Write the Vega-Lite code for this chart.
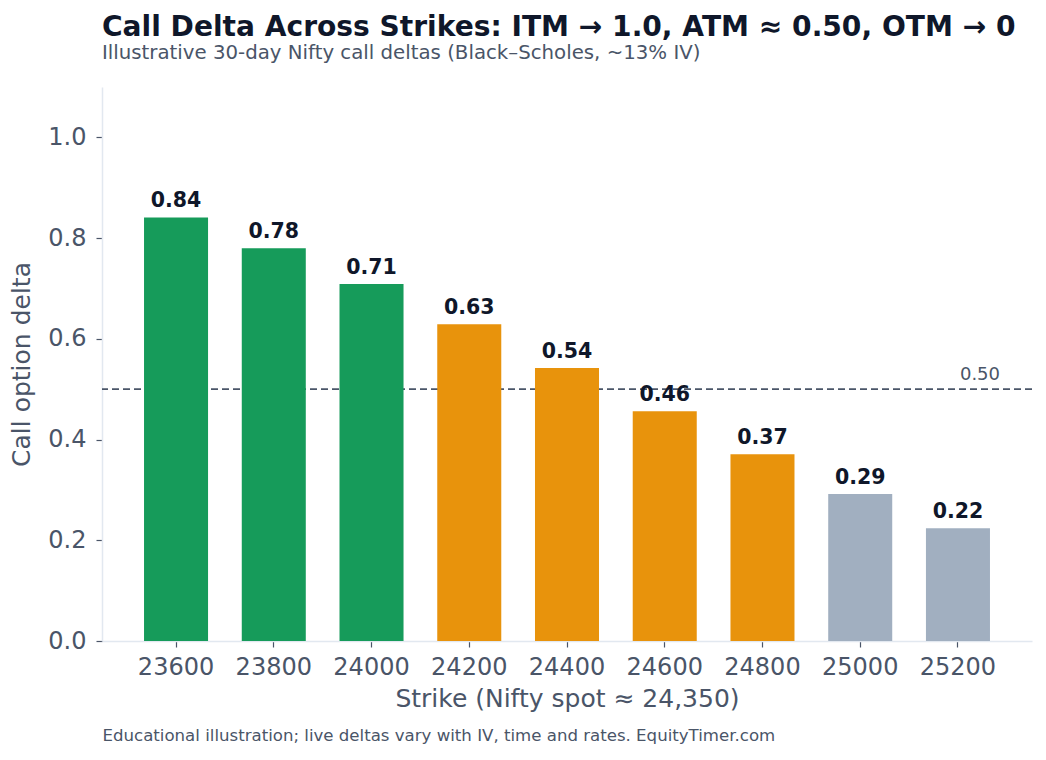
{
  "$schema": "https://vega.github.io/schema/vega-lite/v6.json",
  "autosize": "none",
  "width": 930,
  "height": 554,
  "padding": {"left": 102, "top": 87, "right": 14, "bottom": 119},
  "background": "white",
  "config": {
    "font": "DejaVu Sans",
    "view": {"stroke": null},
    "axis": {"titleFontWeight": "normal"}
  },
  "title": {
    "text": "Call Delta Across Strikes: ITM → 1.0, ATM ≈ 0.50, OTM → 0",
    "subtitle": "Illustrative 30-day Nifty call deltas (Black–Scholes, ~13% IV)",
    "anchor": "start",
    "frame": "group",
    "fontSize": 28.1,
    "fontWeight": "bold",
    "color": "#0f172a",
    "subtitleFontSize": 19.75,
    "subtitleColor": "#4a5568",
    "subtitlePadding": 0.5,
    "offset": 24.3
  },
  "data": {
    "values": [
      {"strike": "23600", "delta": 0.841, "zone": "ITM"},
      {"strike": "23800", "delta": 0.780, "zone": "ITM"},
      {"strike": "24000", "delta": 0.709, "zone": "ITM"},
      {"strike": "24200", "delta": 0.629, "zone": "Near ATM"},
      {"strike": "24400", "delta": 0.542, "zone": "Near ATM"},
      {"strike": "24600", "delta": 0.456, "zone": "Near ATM"},
      {"strike": "24800", "delta": 0.371, "zone": "Near ATM"},
      {"strike": "25000", "delta": 0.292, "zone": "OTM"},
      {"strike": "25200", "delta": 0.224, "zone": "OTM"}
    ]
  },
  "layer": [
    {
      "encoding": {
        "y": {
          "type": "quantitative",
          "scale": {"domain": [0, 1.1], "nice": false},
          "axis": {
            "title": "Call option delta",
            "values": [0, 0.2, 0.4, 0.6, 0.8, 1.0],
            "format": ".1f",
            "labelFontSize": 24,
            "labelColor": "#4a5568",
            "labelPadding": 10,
            "tickSize": 6,
            "tickWidth": 1.2,
            "tickColor": "#4a5568",
            "domainColor": "#e2e8f0",
            "domainWidth": 1.5,
            "gridColor": "#e2e8f0",
            "gridWidth": 1.2,
            "titleFontSize": 25,
            "titleColor": "#4a5568",
            "titlePadding": 13
          }
        }
      },
      "layer": [
        {
          "data": {"values": [{}]},
          "mark": {"type": "rule", "color": "#4a5568", "strokeWidth": 1.8, "strokeDash": [7, 4]},
          "encoding": {"y": {"datum": 0.5}}
        },
        {
          "mark": {"type": "bar"},
          "encoding": {
            "x": {
              "field": "strike",
              "type": "ordinal",
              "scale": {"paddingInner": 0.345, "paddingOuter": 0.43},
              "axis": {
                "title": "Strike (Nifty spot ≈ 24,350)",
                "labelAngle": 0,
                "labelFontSize": 24,
                "labelColor": "#4a5568",
                "labelPadding": 8,
                "tickSize": 6,
                "tickWidth": 1.2,
                "tickColor": "#4a5568",
                "domainColor": "#e2e8f0",
                "domainWidth": 1.5,
                "titleFontSize": 25,
                "titleColor": "#4a5568",
                "titlePadding": 7
              }
            },
            "y": {"field": "delta"},
            "color": {
              "field": "zone",
              "type": "nominal",
              "legend": null,
              "scale": {
                "domain": ["ITM", "Near ATM", "OTM"],
                "range": ["#169b5a", "#e8930c", "#a1afc0"]
              }
            }
          }
        },
        {
          "mark": {"type": "text", "baseline": "alphabetic", "dy": -10, "fontSize": 20.5, "fontWeight": "bold", "color": "#0f172a"},
          "encoding": {
            "x": {"field": "strike", "type": "ordinal"},
            "y": {"field": "delta"},
            "text": {"field": "delta", "format": ".2f"}
          }
        },
        {
          "data": {"values": [{}]},
          "mark": {"type": "text", "baseline": "alphabetic", "dy": -9, "xOffset": 22, "fontSize": 18, "color": "#4a5568"},
          "encoding": {
            "x": {"datum": "25200", "type": "ordinal"},
            "y": {"datum": 0.5},
            "text": {"value": "0.50"}
          }
        }
      ]
    },
    {
      "data": {"values": [{}]},
      "mark": {"type": "text"},
      "encoding": {
        "x": {
          "datum": 0,
          "type": "quantitative",
          "axis": {
            "orient": "bottom",
            "title": "Educational illustration; live deltas vary with IV, time and rates. EquityTimer.com",
            "labels": false,
            "ticks": false,
            "domain": false,
            "grid": false,
            "titleFontSize": 16.6,
            "titleColor": "#4a5568",
            "titleAnchor": "start",
            "titleAlign": "left",
            "titleBaseline": "alphabetic",
            "titleX": 0,
            "titleY": 99
          }
        },
        "text": {"value": ""}
      }
    }
  ],
  "resolve": {"scale": {"x": "independent"}, "axis": {"x": "independent"}}
}
